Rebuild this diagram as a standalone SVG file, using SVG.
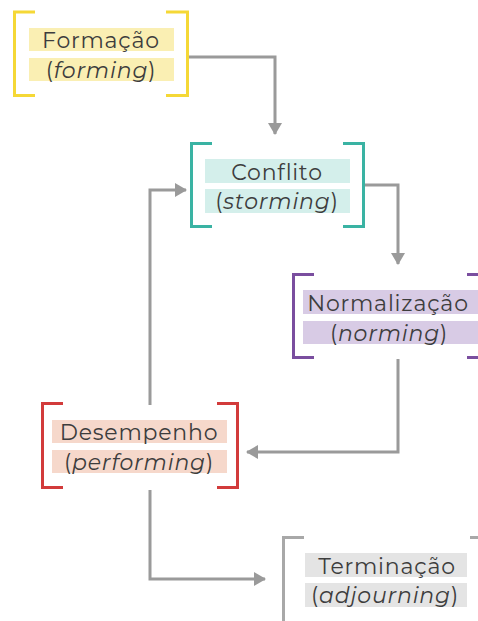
<svg xmlns="http://www.w3.org/2000/svg" width="478" height="621" viewBox="0 0 478 621">
<style>
.br{fill:none;stroke-width:3}
.t{font-family:"Montserrat","Noto Sans","Liberation Sans",sans-serif;font-size:22px;fill:#3d3d3d;text-anchor:middle;letter-spacing:0.8px}
.i{font-style:italic}
.c{fill:none;stroke:#9a9a9a;stroke-width:3}
</style>
<defs>
<marker id="ah" viewBox="0 0 12 14" refX="11" refY="7" markerWidth="12" markerHeight="14" markerUnits="userSpaceOnUse" orient="auto">
<path d="M0,0 L12,7 L0,14 Z" fill="#9a9a9a"/>
</marker>
</defs>
<rect width="478" height="621" fill="#fff"/>
<g id="connectors">
<path class="c" d="M188,57 H275 V134" marker-end="url(#ah)"/>
<path class="c" d="M364,185 H398 V264" marker-end="url(#ah)"/>
<path class="c" d="M398,359 V452 H247" marker-end="url(#ah)"/>
<path class="c" d="M150,405 V190 H186" marker-end="url(#ah)"/>
<path class="c" d="M150,490 V579 H265" marker-end="url(#ah)"/>
</g>
<g id="formacao">
<rect x="29" y="28" width="145" height="23" fill="#faefb3"/>
<rect x="29" y="58" width="145" height="23" fill="#faefb3"/>
<path class="br" stroke="#f5d836" d="M35,12 H14.5 V95.5 H35 M166,12 H187.5 V95.5 H166"/>
<text class="t" x="101" y="48">Formação</text>
<text class="t" x="101" y="78">(<tspan class="i">forming</tspan>)</text>
</g>
<g id="conflito">
<rect x="205" y="159" width="145" height="24" fill="#d4efeb"/>
<rect x="205" y="189" width="145" height="24" fill="#d4efeb"/>
<path class="br" stroke="#3ab3a3" d="M212,143.5 H191.5 V226.5 H212 M343,143.5 H363.5 V226.5 H343"/>
<text class="t" x="277" y="180">Conflito</text>
<text class="t" x="277" y="209">(<tspan class="i">storming</tspan>)</text>
</g>
<g id="normalizacao">
<rect x="303" y="290" width="175" height="24" fill="#d8cbe5"/>
<rect x="303" y="321" width="175" height="23" fill="#d8cbe5"/>
<path class="br" stroke="#7a4e9f" d="M314,274.5 H293.5 V357.5 H314 M467,274.5 H478 M467,357.5 H478"/>
<text class="t" x="388" y="311">Normalização</text>
<text class="t" x="389" y="341">(<tspan class="i">norming</tspan>)</text>
</g>
<g id="desempenho">
<rect x="52" y="420" width="175" height="23" fill="#f6d8cb"/>
<rect x="52" y="450" width="175" height="23" fill="#f6d8cb"/>
<path class="br" stroke="#d23b3b" d="M63,403.5 H42.5 V487.5 H63 M217,403.5 H237.5 V487.5 H217"/>
<text class="t" x="139" y="440">Desempenho</text>
<text class="t" x="139" y="470">(<tspan class="i">performing</tspan>)</text>
</g>
<g id="terminacao">
<rect x="305" y="553" width="162" height="24" fill="#e4e4e4"/>
<rect x="305" y="583" width="162" height="24" fill="#e4e4e4"/>
<path class="br" stroke="#a8a8a8" d="M304,537.5 H283.5 V621 M470,537.5 H478"/>
<text class="t" x="387" y="574">Terminação</text>
<text class="t" x="385" y="603">(<tspan class="i">adjourning</tspan>)</text>
</g>
</svg>
